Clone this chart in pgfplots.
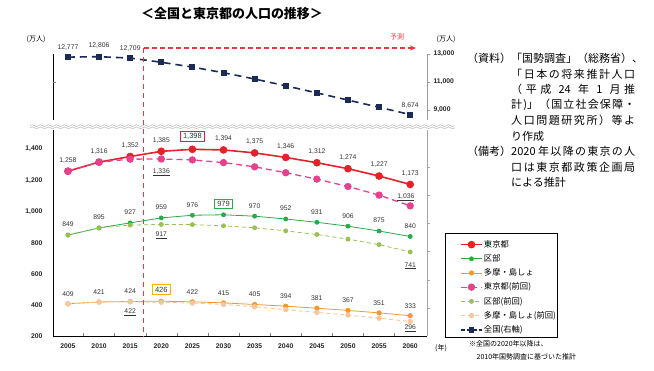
\documentclass[border=0pt]{standalone}
\usepackage{fontspec}
\setmainfont{Liberation Sans}
\newfontfamily\cjk{Noto Sans CJK JP}
\usepackage{pgfplots}
\usepackage{pgfplotstable}
\pgfplotsset{compat=1.18}
\usetikzlibrary{decorations.pathmorphing,arrows.meta}

\definecolor{cTok}{HTML}{E8202A}
\definecolor{cKu}{HTML}{2BAA4A}
\definecolor{cTama}{HTML}{F39A2E}
\definecolor{cTokP}{HTML}{E5418C}
\definecolor{cKuP}{HTML}{98C152}
\definecolor{cTamaP}{HTML}{F8C69A}
\definecolor{cNat}{HTML}{1C2B55}
\definecolor{cFore}{HTML}{E8383D}
\definecolor{cLbl}{HTML}{333333}
\definecolor{cBox}{HTML}{F5B400}

\pgfplotstableread{
year tok ku tama tokp kup tamap
2005 1258 849 409 1258 849 409
2010 1316 895 421 1316 895 421
2015 1352 927 424 1335 913 422
2020 1385 959 426 1336 917 419
2025 1398 976 422 1330 916 414
2030 1394 979 415 1313 908 405
2035 1375 970 405 1286 896 390
2040 1346 952 394 1248 876 372
2045 1312 931 381 1207 853 354
2050 1274 906 367 1160 823 337
2055 1227 875 351 1105 788 317
2060 1173 840 333 1036 741 296
}\tokyo

\pgfplotstableread{
year nat
2005 12777
2010 12806
2015 12709
2020 12410
2025 12066
2030 11662
2035 11212
2040 10728
2045 10221
2050 9708
2055 9193
2060 8674
}\national

\pgfplotsset{
  base/.style={scale only axis, width=374pt, xmin=2002.6, xmax=2062.7,
    ticklabel style={font=\bfseries\fontsize{6.8}{8}\selectfont, text=black!85},
    /pgf/number format/assume math mode=true,
    /pgf/number format/1000 sep={,},
    scaled ticks=false,
    clip=false},
}
\tikzset{
  lbl/.style={font=\fontsize{6.8}{8}\selectfont, text=cLbl, inner sep=0.5pt},
  bx/.style={lbl, draw=#1, line width=1pt, inner xsep=2.5pt, inner ysep=2pt, font=\fontsize{7.5}{8}\selectfont, fill=white},
  rt/.style={draw=gray!70, line width=0.5pt},
}
\newcommand{\spr}[1]{\makebox[124pt][s]{#1}}

\begin{document}
\begin{tikzpicture}
\useasboundingbox (0pt,0pt) rectangle (654pt,371pt);

% lower panel
\begin{axis}[base, at={(53pt,34.5pt)}, anchor=south west, height=206.25pt,
  ymin=200, ymax=1520,
  axis x line*=bottom, axis y line*=left,
  axis line style={black, line width=0.9pt, -},
  xtick={2005,2010,2015,2020,2025,2030,2035,2040,2045,2050,2055,2060},
  xticklabels={2005,2010,2015,2020,2025,2030,2035,2040,2045,2050,2055,2060},
  major x tick style={draw=none},
  minor xtick={2007.5,2012.5,2017.5,2022.5,2027.5,2032.5,2037.5,2042.5,2047.5,2052.5,2057.5},
  minor x tick style={gray, line width=0.4pt}, minor tick length=3pt, tick align=inside,
  ytick={200,400,600,800,1000,1200,1400}, y tick style={draw=none},
  xticklabel style={yshift=-4pt},
  yticklabel style={xshift=-7pt},
  legend style={at={(rel axis cs:1.0668,0.4873)}, anchor=north west, draw=none, fill=none,
    font=\cjk\fontsize{8.3}{9}\selectfont, inner xsep=8pt, inner ysep=3pt,
    row sep=3.3pt, nodes={inner sep=1.2pt}},
  legend cell align=left,
  legend image code/.code={\draw[#1, mark repeat=2, mark phase=2] plot coordinates {(0pt,0pt) (10.5pt,0pt) (21pt,0pt)};},
]
\addplot[cTok, line width=1.6pt, mark=*, mark size=3pt] table[x=year,y=tok]{\tokyo};
\addlegendentry{東京都}
\addplot[cKu, line width=0.8pt, mark=*, mark size=2pt] table[x=year,y=ku]{\tokyo};
\addlegendentry{区部}
\addplot[cTama, line width=0.8pt, mark=*, mark size=2.2pt] table[x=year,y=tama]{\tokyo};
\addlegendentry{多摩・島しょ}
\addplot[cTokP, line width=1.3pt, dash pattern=on 6pt off 4pt, mark=*, mark size=3pt, mark options={solid}] table[x=year,y=tokp]{\tokyo};
\addlegendentry{東京都(前回)}
\addplot[cKuP, line width=0.8pt, dash pattern=on 4pt off 3pt, mark=*, mark size=2pt, mark options={solid}] table[x=year,y=kup]{\tokyo};
\addlegendentry{区部(前回)}
\addplot[cTamaP, line width=0.9pt, dash pattern=on 4pt off 3pt, mark=*, mark size=2.2pt, mark options={solid}] table[x=year,y=tamap]{\tokyo};
\addlegendentry{多摩・島しょ(前回)}
\addlegendimage{cNat, line width=1.6pt, dash pattern=on 4pt off 2pt, mark=square*, mark size=2pt, mark options={solid}}
\addlegendentry{全国(右軸)}

% right grey axis line of lower panel
\draw[gray!70, line width=0.6pt] (rel axis cs:1,0) -- (rel axis cs:1,1);
\draw[rt] (axis cs:2062.7,1285) -- ++(3pt,0pt);
\draw[rt] (axis cs:2062.7,1101) -- ++(3pt,0pt);
\draw[rt] (axis cs:2062.7,926) -- ++(3pt,0pt);
\draw[rt] (axis cs:2062.7,743) -- ++(3pt,0pt);
\draw[rt] (axis cs:2062.7,562) -- ++(3pt,0pt);
\draw[rt] (axis cs:2062.7,382) -- ++(3pt,0pt);

% labels Tokyo
\node[lbl, yshift=11pt] at (axis cs:2005,1258) {1,258};
\node[lbl, yshift=11pt] at (axis cs:2010,1316) {1,316};
\node[lbl, yshift=11pt] at (axis cs:2015,1352) {1,352};
\node[lbl, yshift=11pt] at (axis cs:2020,1385) {1,385};
\node[bx=cTok, yshift=12.5pt] at (axis cs:2025,1398) {1,398};
\node[lbl, yshift=11pt] at (axis cs:2030,1394) {1,394};
\node[lbl, yshift=11pt] at (axis cs:2035,1375) {1,375};
\node[lbl, yshift=11pt] at (axis cs:2040,1346) {1,346};
\node[lbl, yshift=11pt] at (axis cs:2045,1312) {1,312};
\node[lbl, yshift=11pt] at (axis cs:2050,1274) {1,274};
\node[lbl, yshift=11pt] at (axis cs:2055,1227) {1,227};
\node[lbl, yshift=11pt] at (axis cs:2060,1173) {1,173};
% labels ku
\node[lbl, yshift=10.5pt] at (axis cs:2005,849) {849};
\node[lbl, yshift=10.5pt] at (axis cs:2010,895) {895};
\node[lbl, yshift=10.5pt] at (axis cs:2015,927) {927};
\node[lbl, yshift=10.5pt] at (axis cs:2020,959) {959};
\node[lbl, yshift=10.5pt] at (axis cs:2025,976) {976};
\node[bx=cKu, yshift=10.8pt] at (axis cs:2030,979) {979};
\node[lbl, yshift=10.5pt] at (axis cs:2035,970) {970};
\node[lbl, yshift=10.5pt] at (axis cs:2040,952) {952};
\node[lbl, yshift=10.5pt] at (axis cs:2045,931) {931};
\node[lbl, yshift=10.5pt] at (axis cs:2050,906) {906};
\node[lbl, yshift=10.5pt] at (axis cs:2055,875) {875};
\node[lbl, yshift=10.5pt] at (axis cs:2060,840) {840};
% labels tama
\node[lbl, yshift=10pt] at (axis cs:2005,409) {409};
\node[lbl, yshift=10pt] at (axis cs:2010,421) {421};
\node[lbl, yshift=10pt] at (axis cs:2015,424) {424};
\node[bx=cBox, yshift=11.7pt] at (axis cs:2020,426) {426};
\node[lbl, yshift=10pt] at (axis cs:2025,422) {422};
\node[lbl, yshift=10pt] at (axis cs:2030,415) {415};
\node[lbl, yshift=10pt] at (axis cs:2035,405) {405};
\node[lbl, yshift=10pt] at (axis cs:2040,394) {394};
\node[lbl, yshift=10pt] at (axis cs:2045,381) {381};
\node[lbl, yshift=10pt] at (axis cs:2050,367) {367};
\node[lbl, yshift=10pt] at (axis cs:2055,351) {351};
\node[lbl, yshift=10pt] at (axis cs:2060,333) {333};
% underlined previous-projection labels
\node[lbl, yshift=-13.4pt] at (axis cs:2020,1336) {\underline{1,336}};
\node[lbl, yshift=-11pt] at (axis cs:2020,917) {\underline{917}};
\node[lbl, yshift=-10.5pt] at (axis cs:2015,422) {\underline{422}};
\node[lbl, yshift=8.6pt, xshift=-4.3pt] at (axis cs:2060,1036) {\underline{1,036}};
\node[lbl, yshift=-13.7pt] at (axis cs:2060,741) {\underline{741}};
\node[lbl, yshift=-6.8pt] at (axis cs:2060,296) {\underline{296}};
\end{axis}

% legend frame
\draw[black, line width=0.8pt] (445pt,34pt) rectangle (557pt,138pt);

% upper panel
\begin{axis}[base, at={(53pt,251.2pt)}, anchor=south west, height=65.8pt,
  ymin=8300, ymax=13000,
  axis x line=none, axis y line*=right,
  axis line style={gray!80, line width=0.6pt, -},
  ytick={9000,11000,13000}, tick align=outside, major tick length=3pt,
  y tick style={gray!80, line width=0.5pt},
  yticklabel style={xshift=0pt},
]
\draw[black, line width=0.9pt] (rel axis cs:0,0) -- (rel axis cs:0,1);
\draw[gray, line width=0.4pt] (axis cs:2002.6,11000) -- ++(3pt,0pt);
\addplot[cNat, line width=1.6pt, dash pattern=on 7pt off 5pt, mark=square*, mark size=2.2pt, mark options={solid}] table[x=year,y=nat]{\national};
\node[lbl, yshift=10pt] at (axis cs:2005,12777) {12,777};
\node[lbl, yshift=10.7pt] at (axis cs:2010,12806) {12,806};
\node[lbl, yshift=9.4pt] at (axis cs:2015,12709) {12,709};
\node[lbl, yshift=8.6pt] at (axis cs:2060,8674) {8,674};
\end{axis}

% break marks
\draw[gray!55, line width=0.5pt, decorate, decoration={snake, amplitude=0.9pt, segment length=8pt}] (30pt,245.4pt) -- (455pt,245.4pt);
\draw[gray!55, line width=0.5pt, decorate, decoration={snake, amplitude=0.9pt, segment length=8pt}] (30pt,243.2pt) -- (455pt,243.2pt);

% forecast marker
\draw[cFore, line width=1.4pt, dash pattern=on 5pt off 4pt] (143.7pt,323pt) -- (143.7pt,34.5pt);
\draw[cFore, line width=1.2pt, dash pattern=on 5pt off 3pt, -{Stealth[length=6pt,width=5pt]}] (143.7pt,323pt) -- (416pt,323pt);
\node[text=cFore, font=\cjk\fontsize{7}{8}\selectfont] at (397pt,334pt) {予測};

% titles & units
\node[font=\cjk\bfseries\fontsize{13}{14}\selectfont] at (232pt,357pt) {＜全国と東京都の人口の推移＞};
\node[font=\cjk\fontsize{7}{8}\selectfont] at (36pt,332pt) {(万人)};
\node[font=\cjk\fontsize{7}{8}\selectfont] at (446pt,332pt) {(万人)};
\node[font=\cjk\fontsize{7}{8}\selectfont] at (441pt,23pt) {(年)};

% note
\node[font=\cjk\fontsize{7}{8}\selectfont, anchor=west, inner sep=0pt] at (469pt,27pt) {※全国の2020年以降は、};
\node[font=\cjk\fontsize{7}{8}\selectfont, anchor=west, inner sep=0pt] at (476.5pt,14pt) {2010年国勢調査に基づいた推計};

% source text
\begin{scope}[every node/.style={font=\cjk\fontsize{11}{12}\selectfont, anchor=west, inner sep=0pt}]
\node at (467pt,312.7pt) {（資料）「国勢調査」（総務省）、};
\node at (511pt,297.2pt) {\spr{「\hfil 日\hfil 本\hfil の\hfil 将\hfil 来\hfil 推\hfil 計\hfil 人\hfil 口}};
\node at (511pt,281.6pt) {\spr{（\hfil 平\hfil 成\hfil\hfil 24\hfil\hfil 年\hfil\hfil 1\hfil\hfil 月\hfil 推}};
\node at (511pt,266.1pt) {\spr{計\hfil)」\hfil （\hfil 国\hfil 立\hfil 社\hfil 会\hfil 保\hfil 障\hfil ・}};
\node at (511pt,250.5pt) {\spr{人\hfil 口\hfil 問\hfil 題\hfil 研\hfil 究\hfil 所\hfil ）\hfil 等\hfil よ}};
\node at (511pt,235pt) {り作成};
\node at (467pt,219.4pt) {（備考）\makebox[124pt][s]{2020\hfil\hfil 年\hfil 以\hfil 降\hfil の\hfil 東\hfil 京\hfil の\hfil 人}};
\node at (511pt,203.9pt) {\spr{口\hfil は\hfil 東\hfil 京\hfil 都\hfil 政\hfil 策\hfil 企\hfil 画\hfil 局}};
\node at (511pt,188.3pt) {による推計};
\end{scope}
\end{tikzpicture}
\end{document}
